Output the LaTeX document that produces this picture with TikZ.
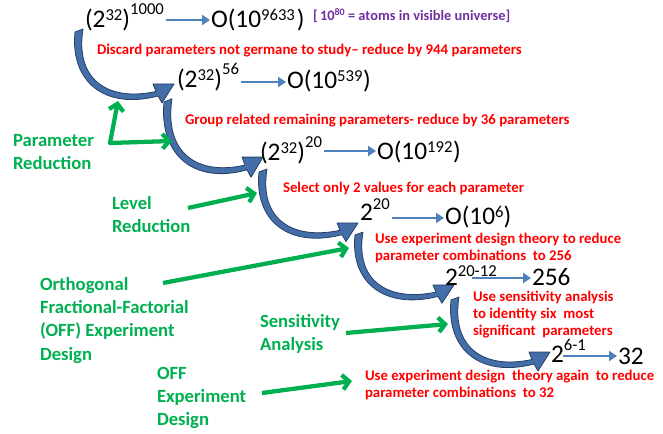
\documentclass[tikz,border=0pt]{standalone}
\usepackage{fontspec}
\setmainfont{Carlito}
\usetikzlibrary{arrows.meta,calc}
\definecolor{redt}{RGB}{255,0,0}
\definecolor{greent}{RGB}{0,176,80}
\definecolor{purplet}{RGB}{112,48,160}
\definecolor{bluesm}{RGB}{79,129,189}
\definecolor{bluebig}{RGB}{68,110,168}
\definecolor{bluedark}{RGB}{37,64,105}
\newcommand\supA[1]{\raisebox{0.3em}{\fontsize{12.5}{12.5}\selectfont #1}}
\newcommand\supB[1]{\raisebox{0.55em}{\fontsize{12.5}{12.5}\selectfont #1}}
\newcommand\supC[1]{\raisebox{0.44em}{\fontsize{12.5}{12.5}\selectfont #1}}
\newcommand\supD[1]{\raisebox{0.38em}{\fontsize{12.5}{12.5}\selectfont #1}}
\newcommand\smallarrow[3]{\draw[smarr] ($(#1.base east |- #2.base)+(2,#3)$) -- ($(#2.base west)+(-1,#3)$);}
\newcommand\underarrow[4]{\draw[smarr] ($(#1.base west |- #2.base)+(#4,#3)$) -- ($(#2.base west)+(-1,#3)$);}
\newcommand\bigcurve[1]{%
\begin{scope}[#1]
\filldraw[bigarr] (-5,0) .. controls (-10,50) and (25,78) .. (78,64) -- (82,71) -- (94,52) -- (73,52) -- (76,59.5) .. controls (27,70) and (-5,47) .. (3,-3) -- cycle;
\end{scope}}
\begin{document}
\begin{tikzpicture}[x=0.75pt,y=-0.75pt,
  every node/.style={inner sep=0pt,outer sep=0pt},
  expr/.style={anchor=base west,font=\fontsize{19}{22}\selectfont},
  note/.style={anchor=north west,align=left,text=redt,font=\bfseries\fontsize{11.1}{12.75}\selectfont},
  lab/.style={anchor=north west,align=left,text=greent,font=\bfseries\fontsize{14}{17.5}\selectfont},
  smarr/.style={draw=bluesm,line width=2.2pt,-{Triangle[length=6pt,width=7.5pt]}},
  garr/.style={draw=greent,line width=3.2pt,-{Straight Barb[length=5pt,width=11pt]}},
  bigarr/.style={fill=bluebig,draw=bluedark,line width=0.6pt,line join=round}]
\useasboundingbox (0,0) rectangle (663,434);

% big curved arrows
\bigcurve{shift={(80,32)}}
\bigcurve{shift={(169,102)},yscale=1.06}
\bigcurve{shift={(264,172)},yscale=0.98}
\bigcurve{shift={(360,235)},yscale=0.96}
\bigcurve{shift={(456,300)}}

% expressions
\node[expr] (e1a) at (85,28) {(2\supA{32})\supB{1000}};
\node[expr] (e1b) at (211,28) {O(10\supA{9633}\hspace{1.5pt})};
\node[expr] (e2a) at (177,88) {(2\supA{32})\supB{56}};
\node[expr] (e2b) at (287,89) {O(10\supA{539}\hspace{0.5pt})};
\node[expr] (e3a) at (260,161) {(2\supA{32})\supB{20}};
\node[expr] (e3b) at (377,160) {O(10\supA{192}\hspace{0.5pt})};
\node[expr] (e4a) at (360,221) {2\supC{20}};
\node[expr] (e4b) at (445,225) {O(10\supA{6})};
\node[expr] (e5a) at (445,286) {2\supD{20-12}};
\node[expr] (e5b) at (532,286) {256};
\node[expr] (e6a) at (551,362) {2\supC{6-1}};
\node[expr] (e6b) at (618,364) {32};

\smallarrow{e1a}{e1b}{-8}
\smallarrow{e2a}{e2b}{-7}
\smallarrow{e3a}{e3b}{-9}
\smallarrow{e4a}{e4b}{-7}
\underarrow{e5a}{e5b}{-8}{27}
\underarrow{e6a}{e6b}{-8}{12}

\node[anchor=base west,text=purplet,font=\bfseries\fontsize{10.8}{12}\selectfont] (atoms) at (313,21) {[\,10\raisebox{0.35em}{\fontsize{7.5}{8}\selectfont 80} = atoms in visible universe]};

% red notes
\node[note] (n1) at (97,44.5) {Discard parameters not germane to study-- reduce by 944 parameters};
\node[note] (n2) at (185,114.5) {Group related remaining parameters- reduce by 36 parameters};
\node[note] (n3) at (283,182.5) {Select only 2 values for each parameter};
\node[note] (n4) at (375,233.5) {Use experiment design theory to reduce\\parameter combinations\ \ to 256};
\node[note] (n5) at (473,291.5) {Use sensitivity analysis\\to identity six\ \ most\\significant\ \ parameters};
\node[note] (n6) at (365,370.5) {Use experiment design\ \ theory again\ \ to reduce\\parameter combinations\ \ to 32};

% green labels
\node[lab] (l1) at (13,134) {Parameter\\Reduction};
\node[lab] (l2) at (112,196) {Level\\Reduction};
\node[lab] (l3) at (40,277) {Orthogonal\\Fractional-Factorial\\(OFF) Experiment\\Design};
\node[lab] (l4) at (260,314) {Sensitivity\\Analysis};
\node[lab] (l5) at (157,367) {OFF\\Experiment\\Design};

% green arrows
\coordinate (prt) at (118,101);
\coordinate (prc) at (110,143);
\coordinate (prr) at (172,141);
\draw[garr,{Straight Barb[length=5pt,width=11pt]}-{Straight Barb[length=5pt,width=11pt]},line join=round] (prt) -- (prc) -- (prr);
\coordinate (g2s) at (188,208); \coordinate (g2e) at (257,193);
\draw[garr] (g2s) -- (g2e);
\coordinate (g3s) at (163,283); \coordinate (g3e) at (349,248);
\draw[garr] (g3s) -- (g3e);
\coordinate (g4s) at (346,333); \coordinate (g4e) at (448,324);
\draw[garr] (g4s) -- (g4e);
\coordinate (g5s) at (262,393); \coordinate (g5e) at (352,381);
\draw[garr] (g5s) -- (g5e);
\end{tikzpicture}
\end{document}
